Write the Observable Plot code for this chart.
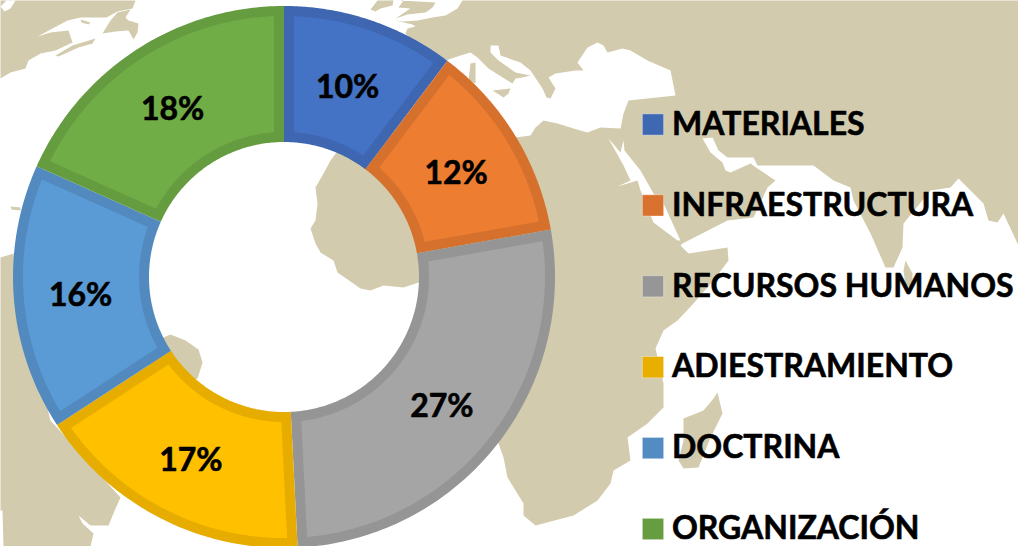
<!DOCTYPE html>
<html><head><meta charset="utf-8">
<style>html,body{margin:0;padding:0;background:#fff;overflow:hidden}svg{display:block}</style>
<script src="https://cdn.jsdelivr.net/npm/d3@7"></script>
<script src="https://cdn.jsdelivr.net/npm/@observablehq/plot@0.6"></script>
</head><body><div id="chart"></div>
<script>
const categories = ["MATERIALES","INFRAESTRUCTURA","RECURSOS HUMANOS","ADIESTRAMIENTO","DOCTRINA","ORGANIZACIÓN"];
const shares = [10.3,11.9,27,16.6,15.9,18.3];
const fillColors = ["#4472C4","#ED7D31","#A5A5A5","#FFC000","#5B9BD5","#70AD47"];
const edgeColors = ["#3F66B1","#D5712D","#959595","#E6AD00","#528ABF","#659C40"];
const legendColors = ["#3F68B3","#D8722E","#969696","#E8AE00","#538CC2","#669D41"];

// Backdrop map outlines, in image units.
const landMain = [[462,0],[1018,0],[1018,245],[1003,213],[997,222],[988,220],[983,203],[958,178],[950,187],[930,190],[903,223],[902,247],[893,267],[885,267],[870,233],[853,200],[850,187],[833,180],[813,165],[757,165],[753,157],[727,157],[718,150],[712,137],[702,138],[710,152],[722,162],[725,170],[730,172],[750,163],[757,168],[775,180],[767,187],[753,217],[727,220],[682,243],[680,245],[688,253],[727,247],[728,260],[713,280],[693,303],[677,320],[663,330],[655,348],[663,383],[663,407],[647,423],[627,437],[630,460],[613,470],[610,483],[597,500],[573,515],[535,525],[523,515],[523,503],[507,477],[503,457],[498,443],[440,350],[425,285],[418,282],[403,287],[383,285],[370,290],[360,288],[337,272],[333,260],[320,252],[315,243],[310,228],[315,220],[317,203],[315,187],[323,173],[330,160],[345,140],[500,120],[515,137],[530,135],[535,127],[543,120],[557,123],[573,128],[587,132],[600,127],[620,128],[623,113],[628,100],[675,95],[672,80],[670,70],[647,60],[630,50],[622,48],[607,52],[603,45],[597,42],[587,47],[577,62],[583,70],[575,70],[555,73],[548,77],[555,88],[550,98],[546,97],[542,88],[530,70],[520,62],[500,55],[498,45],[490,45],[490,52],[498,60],[515,72],[530,75],[522,77],[515,78],[512,83],[507,80],[488,68],[477,57],[470,52],[460,55],[445,60],[420,50],[405,33],[407,28],[415,26],[412,24],[395,20],[402,21],[417,20],[432,17],[445,15],[457,8]];
const landAmericaNorth = [[0,0],[135,0],[132,8],[117,11],[106,17],[80,17],[67,20],[37,36],[50,32],[68,30],[72,42],[55,50],[40,53],[28,60],[25,68],[10,72],[0,78]];
const landNovaScotia = [[55,55],[72,45],[95,38],[92,43],[78,47],[58,56]];
const landNewfoundland = [[102,33],[110,20],[117,12],[130,9],[125,17],[128,20],[138,23],[137,32],[133,39],[128,30],[115,31]];
const landAnticosti = [[80,19],[90,22],[88,24],[81,22]];
const landCaribbean = [[10,206],[20,207],[20,210],[11,209]];
const landAmericaSouth = [[0,257],[13,253],[20,300],[50,420],[120,497],[115,508],[108,525],[90,525],[78,515],[82,523],[93,533],[90,546],[3,546],[2,510],[0,510]];
const landBrazil = [[150,345],[163,337],[170,334],[185,340],[198,349],[202,362],[197,378],[150,400]];
const landBritain = [[400,0],[435,2],[432,7],[425,12],[407,14],[395,18],[410,8],[398,7],[403,0]];
const landIreland = [[370,9],[377,0],[393,0],[392,5],[380,8],[375,11]];
const landCorsica = [[470,63],[475,62],[475,83],[468,80]];
const landSicily = [[492,90],[510,88],[508,93],[503,97]];
const landMadagascar = [[717,392],[722,413],[710,437],[698,467],[683,468],[678,460],[683,440],[683,418],[703,410],[713,398]];
const landSriLanka = [[905,260],[912,273],[912,287],[905,285],[903,270]];
const seaHudson = [[0,6],[4,11],[10,8],[15,0],[6,0],[2,4]];
const seaRed = [[608,138],[620,152],[623,140],[624,150],[640,170],[653,193],[663,203],[680,240],[677,240],[653,222],[640,190],[637,180],[617,186],[630,180],[623,165]];

const tag = (pts, shape) => pts.map(([x,y]) => ({x, y, shape}));
const land = [landMain,landAmericaNorth,landNovaScotia,landNewfoundland,landAnticosti,landCaribbean,landAmericaSouth,landBrazil,landBritain,landIreland,landCorsica,landSicily,landMadagascar,landSriLanka].flatMap((p,i)=>tag(p,i));
const seas = [seaHudson,seaRed].flatMap((p,i)=>tag(p,i));

// Donut geometry derived from shares
const cx = 283.5, cy = 276.5, R = 271, r0 = 135, inset = 10;
const total = d3.sum(shares);
let cum = 0;
const spans = shares.map(v => { const a0 = cum/total*2*Math.PI; cum += v; return [a0, cum/total*2*Math.PI]; });
const pt = (a, rad) => ({x: cx + rad*Math.sin(a), y: cy - rad*Math.cos(a)});
function ring(a0, a1, ro, ri, d) {
  const out = [];
  const n = 90;
  const oo = d ? Math.asin(d/ro) : 0, oi = d ? Math.asin(d/ri) : 0;
  for (let k=0;k<=n;k++) out.push(pt(a0+oo+(a1-a0-2*oo)*k/n, ro));
  for (let k=n;k>=0;k--) out.push(pt(a0+oi+(a1-a0-2*oi)*k/n, ri));
  return out;
}
const edgePts = spans.flatMap(([a0,a1],i) => ring(a0,a1,R,r0,0).map(p=>({...p,i,c:edgeColors[i]})));
const fillPts = spans.flatMap(([a0,a1],i) => ring(a0,a1,R-inset,r0+inset,inset).map(p=>({...p,i,c:fillColors[i]})));
const labels = shares.map((v,i)=>{ const p = pt((spans[i][0]+spans[i][1])/2,(R+r0)/2); return {x:p.x-1,y:p.y+3,t:Math.round(v)+"%"}; });
const legendRows = categories.map((name,i)=>({name, y:124+80.9*i, c:legendColors[i]}));

const font = "Lato, Carlito, sans-serif";
const plot = Plot.plot({
  width:1018, height:546, margin:0,
  style:{background:"#fff"},
  x:{axis:null,domain:[0,1018],range:[0,1018]},
  y:{axis:null,domain:[0,546],range:[0,546]},
  color:{type:"identity"},
  marks:[
    Plot.line(land,{x:"x",y:"y",z:"shape",fill:"#D3CBAD",stroke:"none",curve:"linear"}),
    Plot.line(seas,{x:"x",y:"y",z:"shape",fill:"#fff",stroke:"none",curve:"linear"}),
    Plot.line(edgePts,{x:"x",y:"y",z:"i",fill:"c",stroke:"none",curve:"linear"}),
    Plot.line(fillPts,{x:"x",y:"y",z:"i",fill:"c",stroke:"none",curve:"linear"}),
    Plot.text(labels,{x:"x",y:"y",text:"t",fill:"#000",stroke:"#000",strokeWidth:0.6,fontSize:32,fontWeight:700,fontFamily:font,textAnchor:"middle",lineAnchor:"middle"}),
    Plot.dot(legendRows,{x:()=>652.5,y:"y",symbol:"square",r:12,fill:"c",stroke:"#fff",strokeOpacity:0.35,strokeWidth:1}),
    Plot.text(legendRows,{x:()=>671.5,y:"y",text:"name",fill:"#000",stroke:"#000",strokeWidth:0.6,fontSize:32,fontWeight:700,fontFamily:font,textAnchor:"start",lineAnchor:"middle"})
  ]
});
document.getElementById("chart").appendChild(plot);
</script></body></html>
